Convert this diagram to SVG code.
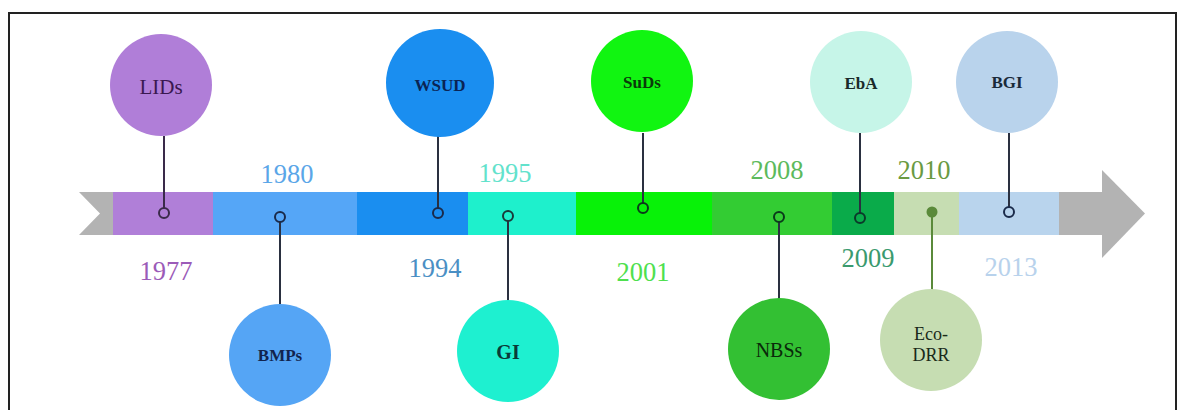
<svg xmlns="http://www.w3.org/2000/svg" width="1178" height="410" viewBox="0 0 1178 410">
<style>
.yr{font-family:"Liberation Serif",serif;font-size:26.5px;text-anchor:middle}
.lb{font-family:"Liberation Serif",serif;font-size:17px;font-weight:bold;text-anchor:middle}
.lr{font-family:"Liberation Serif",serif;font-size:18px;text-anchor:middle}
.stem{stroke-width:2;fill:none}
.dot{stroke-width:2}
</style>
<rect x="0" y="0" width="1178" height="410" fill="#ffffff"/>
<rect x="9" y="13" width="1167" height="420" fill="none" stroke="#222" stroke-width="2"/>
<g id="timeline">
<polygon points="79,192 113,192 113,235 79,235 100,213.5" fill="#b3b3b3"/>
<rect x="113" y="192" width="100" height="43" fill="#b07fd8"/>
<rect x="213" y="192" width="144" height="43" fill="#55a6f7"/>
<rect x="357" y="192" width="111" height="43" fill="#1a8ef0"/>
<rect x="468" y="192" width="108" height="43" fill="#1ef0cc"/>
<rect x="576" y="192" width="136" height="43" fill="#08f208"/>
<rect x="712" y="192" width="120" height="43" fill="#33cc33"/>
<rect x="832" y="192" width="62" height="43" fill="#0aab4a"/>
<rect x="894" y="192" width="65" height="43" fill="#c6ddb2"/>
<rect x="959" y="192" width="100" height="43" fill="#b9d4ed"/>
<rect x="1059" y="192" width="44" height="43" fill="#b3b3b3"/>
<polygon points="1102,170 1145,213.5 1102,258" fill="#b3b3b3"/>
</g>
<g id="connectors">
<line class="stem" x1="164" y1="136" x2="164" y2="208" stroke="#3a2a4a"/>
<circle class="dot" cx="164" cy="213" r="5" fill="#b07fd8" stroke="#3a2a4a"/>
<line class="stem" x1="280" y1="222" x2="280" y2="304" stroke="#2a3040"/>
<circle class="dot" cx="280" cy="217" r="5" fill="#55a6f7" stroke="#1a2a4a"/>
<line class="stem" x1="438" y1="136" x2="438" y2="208" stroke="#2a3040"/>
<circle class="dot" cx="438" cy="213" r="5" fill="#1a8ef0" stroke="#1a2a4a"/>
<line class="stem" x1="508" y1="221" x2="508" y2="300" stroke="#2a3040"/>
<circle class="dot" cx="508" cy="216" r="5" fill="#1ef0cc" stroke="#1a3a3a"/>
<line class="stem" x1="643" y1="133" x2="643" y2="203" stroke="#2a3040"/>
<circle class="dot" cx="643" cy="208" r="5" fill="#08f208" stroke="#0a3a1a"/>
<line class="stem" x1="779" y1="222" x2="779" y2="300" stroke="#2a3040"/>
<circle class="dot" cx="779" cy="217" r="5" fill="#33cc33" stroke="#0a3a1a"/>
<line class="stem" x1="860" y1="133" x2="860" y2="213" stroke="#2a3040"/>
<circle class="dot" cx="860" cy="218" r="5" fill="#0aab4a" stroke="#0a3a2a"/>
<line class="stem" x1="932" y1="212" x2="932" y2="290" stroke="#5a8a3a"/>
<circle cx="932" cy="212" r="5.5" fill="#5a8a3a"/>
<line class="stem" x1="1009" y1="133" x2="1009" y2="207" stroke="#2a3040"/>
<circle class="dot" cx="1009" cy="212" r="5" fill="#b9d4ed" stroke="#1a2a4a"/>
</g>
<g id="years">
<text class="yr" x="166" y="280" fill="#9b5bb8">1977</text>
<text class="yr" x="287" y="183" fill="#5aa6e8">1980</text>
<text class="yr" x="435" y="277" fill="#4a8fc4">1994</text>
<text class="yr" x="505" y="182" fill="#62e2cc">1995</text>
<text class="yr" x="643" y="281" fill="#4ee04e">2001</text>
<text class="yr" x="777" y="179" fill="#5cba5c">2008</text>
<text class="yr" x="868" y="267" fill="#3a9a6e">2009</text>
<text class="yr" x="924" y="179" fill="#6a9a42">2010</text>
<text class="yr" x="1011" y="276" fill="#b8d2ec">2013</text>
</g>
<g id="node-LIDs">
<circle cx="161" cy="85" r="51" fill="#b07ed8"/>
<text class="lr" x="161" y="94" style="font-size:21px" fill="#3a1850">LIDs</text>
</g>
<g id="node-BMPs">
<circle cx="280" cy="355" r="51" fill="#55a5f5"/>
<text class="lb" x="280" y="361" fill="#12244e">BMPs</text>
</g>
<g id="node-WSUD">
<circle cx="440" cy="83" r="54" fill="#1a8ef0"/>
<text class="lb" x="440" y="91" fill="#0a2454">WSUD</text>
</g>
<g id="node-GI">
<circle cx="508" cy="351" r="51" fill="#1ef0d0"/>
<text class="lb" x="508" y="359" style="font-size:20px" fill="#0a3a38">GI</text>
</g>
<g id="node-SuDs">
<circle cx="642" cy="81" r="51" fill="#11f511"/>
<text class="lb" x="642" y="88" fill="#0a3a0a">SuDs</text>
</g>
<g id="node-NBSs">
<circle cx="779" cy="349" r="51" fill="#33c033"/>
<text class="lr" x="779" y="357" style="font-size:20px" fill="#0a2a0a">NBSs</text>
</g>
<g id="node-EbA">
<circle cx="861" cy="82" r="51" fill="#c6f5e8"/>
<text class="lb" x="861" y="89" fill="#1a2a2a">EbA</text>
</g>
<g id="node-Eco-DRR">
<circle cx="931" cy="340" r="51" fill="#c6ddb2"/>
<text class="lr" x="931" y="340" fill="#1a2a1a">Eco-</text>
<text class="lr" x="931" y="361" fill="#1a2a1a">DRR</text>
</g>
<g id="node-BGI">
<circle cx="1007" cy="82" r="51" fill="#b9d3ec"/>
<text class="lb" x="1007" y="88" fill="#1a2a3a">BGI</text>
</g>
</svg>
